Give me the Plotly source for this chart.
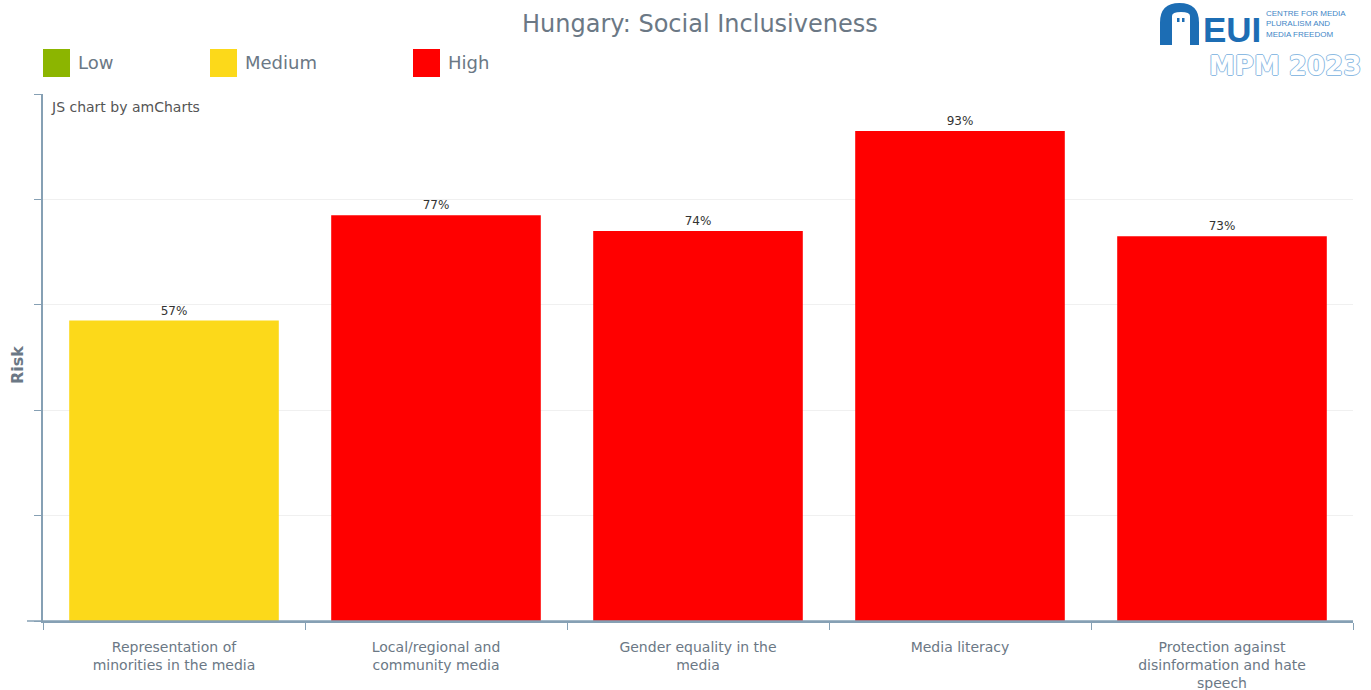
import plotly.graph_objects as go

categories = [
    "Representation of<br>minorities in the media",
    "Local/regional and<br>community media",
    "Gender equality in the<br>media",
    "Media literacy",
    "Protection against<br>disinformation and hate<br>speech",
]
risk_values = [57, 77, 74, 93, 73]
risk_levels = ["Medium", "High", "High", "High", "High"]
legend_levels = ["Low", "Medium", "High"]
level_colors = {"Low": "#8cb500", "Medium": "#fcd91a", "High": "#ff0000"}

W, H = 1371, 690
L, R, T, B = 43, 18, 94, 69
PW, PH = W - L - R, H - T - B
TXT = "#6b7885"
AX = "#86a0b4"
FONT = "DejaVu Sans"


def px(x):
    return (x - L) / PW


def py(y):
    return (H - B - y) / PH


fig = go.Figure()
fig.add_trace(go.Bar(
    x=categories,
    y=risk_values,
    marker=dict(color=[level_colors[l] for l in risk_levels], line=dict(width=0)),
    width=0.8,
    text=[f"{v}%" for v in risk_values],
    textposition="outside",
    textfont=dict(size=12, color="#333333", family=FONT),
    cliponaxis=False,
    showlegend=False,
    hoverinfo="skip",
))

shapes = []
annotations = []

# legend
leg_x = [43, 210, 413]
for lvl, x0 in zip(legend_levels, leg_x):
    shapes.append(dict(type="rect", xref="paper", yref="paper",
                       x0=px(x0), x1=px(x0 + 27), y0=py(77), y1=py(49),
                       fillcolor=level_colors[lvl], line=dict(width=0)))
    annotations.append(dict(xref="paper", yref="paper", x=px(x0 + 33), y=py(63),
                            xanchor="left", yanchor="middle", text=lvl, showarrow=False,
                            font=dict(size=18, color=TXT, family=FONT)))

# extended x-axis baseline
shapes.append(dict(type="line", xref="paper", yref="paper", x0=px(27), x1=1, y0=0, y1=0,
                   line=dict(color=AX, width=1.5)))

# logo arch
ax0, ax1, atop, abot = 1160, 1199, 3, 45
r = (ax1 - ax0) / 2
arch = (f"M {px(ax0)},{py(abot)} L {px(ax0)},{py(atop + r)} "
        f"Q {px(ax0)},{py(atop)} {px(ax0 + r)},{py(atop)} "
        f"Q {px(ax1)},{py(atop)} {px(ax1)},{py(atop + r)} "
        f"L {px(ax1)},{py(abot)} L {px(1190)},{py(abot)} L {px(1190)},{py(16)} "
        f"Q {px(1190)},{py(12)} {px(1181)},{py(12)} Q {px(1172)},{py(12)} {px(1172)},{py(16)} "
        f"L {px(1172)},{py(abot)} Z")
shapes.append(dict(type="path", xref="paper", yref="paper", path=arch,
                   fillcolor="#1c6db4", line=dict(width=0)))
for wx in (1177, 1182):
    shapes.append(dict(type="rect", xref="paper", yref="paper",
                       x0=px(wx), x1=px(wx + 2.5), y0=py(22), y1=py(18),
                       fillcolor="#1c6db4", line=dict(width=0)))

annotations += [
    dict(xref="paper", yref="paper", x=px(700), y=py(24),
         text="Hungary: Social Inclusiveness", showarrow=False,
         xanchor="center", yanchor="middle", font=dict(size=24, color=TXT, family=FONT)),
    dict(xref="paper", yref="paper", x=px(49), y=py(107), text="JS chart by amCharts",
         showarrow=False, xanchor="left", yanchor="middle",
         font=dict(size=14, color="#555555", family=FONT)),
    dict(xref="paper", yref="paper", x=px(18), y=py(365), text="<b>Risk</b>",
         showarrow=False, textangle=-90, xanchor="center", yanchor="middle",
         font=dict(size=16, color=TXT, family=FONT)),
    dict(xref="paper", yref="paper", x=px(1201), y=py(29), text="<b>EUI</b>",
         showarrow=False, xanchor="left", yanchor="middle",
         font=dict(size=35, color="#1c6db4", family="Liberation Sans")),
    dict(xref="paper", yref="paper", x=px(1264), y=py(24),
         text="CENTRE FOR MEDIA<br>PLURALISM AND<br>MEDIA FREEDOM",
         showarrow=False, xanchor="left", yanchor="middle", align="left",
         font=dict(size=8, color="#3f86c6", family="Liberation Sans")),
    dict(xref="paper", yref="paper", x=px(1285), y=py(66), text="<b>MPM 2023</b>",
         showarrow=False, xanchor="center", yanchor="middle",
         font=dict(size=26, color="#ffffff", family="DejaVu Sans",
                   shadow="1px 0 0 #8dbbe3, -1px 0 0 #8dbbe3, 0 1px 0 #8dbbe3, 0 -1px 0 #8dbbe3")),
]

fig.update_layout(
    width=W, height=H,
    margin=dict(l=L, r=R, t=T, b=B, pad=0),
    paper_bgcolor="white", plot_bgcolor="white",
    bargap=0.2,
    shapes=shapes,
    annotations=annotations,
    font=dict(family=FONT, color=TXT),
    xaxis=dict(
        tickson="boundaries", ticks="outside", ticklen=7, tickcolor=AX,
        showline=True, linecolor=AX, linewidth=1.5, showgrid=False,
        tickfont=dict(size=14, color=TXT, family=FONT), fixedrange=True,
        automargin=False, ticklabelstandoff=12,
    ),
    yaxis=dict(
        range=[0, 100], dtick=20, showticklabels=False, ticks="outside", ticklen=7,
        tickcolor=AX, showline=True, linecolor=AX, linewidth=1.5,
        showgrid=True, gridcolor="#f0f0f0", zeroline=False, fixedrange=True,
        automargin=False,
    ),
)

fig.write_html("out.html")
